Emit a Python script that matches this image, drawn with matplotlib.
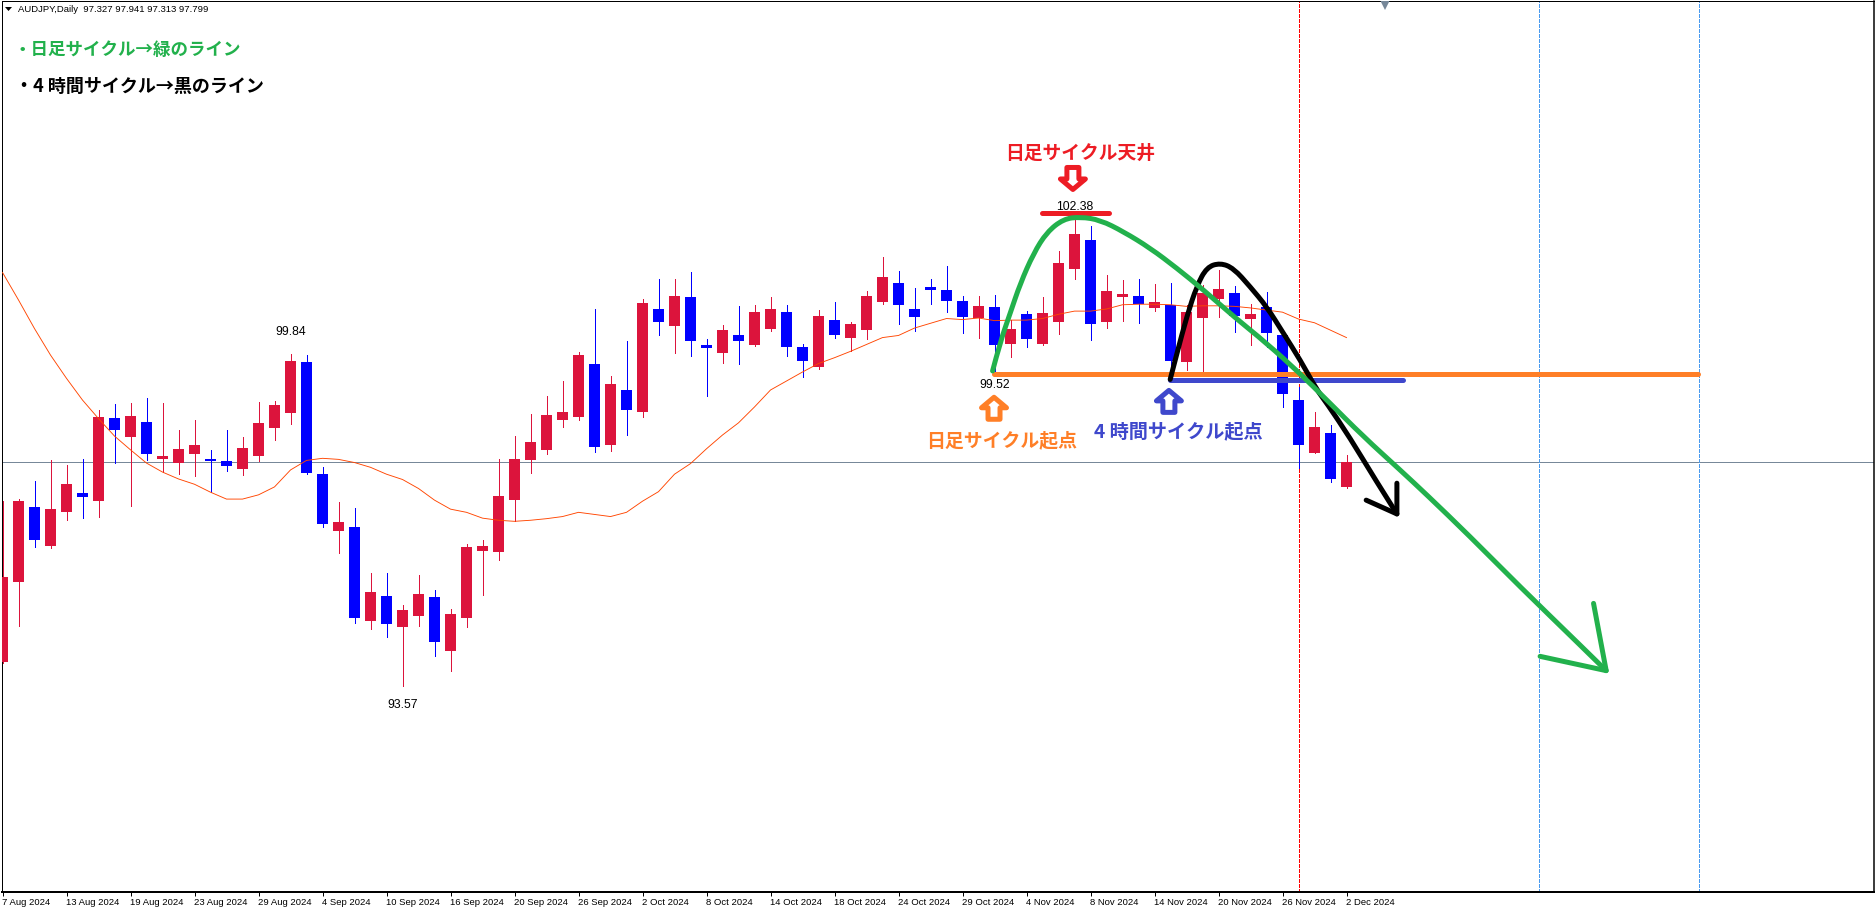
import numpy as np
import matplotlib
matplotlib.use("Agg")
import matplotlib.pyplot as plt
from matplotlib.patches import Polygon, PathPatch
from matplotlib.path import Path
from matplotlib.transforms import Affine2D, ScaledTranslation

plt.rcParams['font.family'] = ['Noto Sans CJK JP', 'DejaVu Sans']

# ---- daily candles (AUDJPY) ----
opens = [94.03,95.54,96.95,96.22,96.86,97.22,97.06,98.63,98.27,98.56,
         97.86,97.78,97.95,97.86,97.82,97.67,97.91,98.44,98.73,99.69,
         97.57,96.50,96.57,94.80,95.27,94.68,94.89,95.25,94.23,94.85,
         96.12,96.10,97.08,97.84,98.03,98.59,98.65,99.65,98.12,99.16,
         98.74,100.69,100.37,100.92,100.01,99.86,100.20,100.01,100.31,100.63,
         99.97,99.59,100.48,100.14,100.29,100.82,101.18,100.69,101.11,101.05,
         100.84,100.52,100.73,100.03,100.60,100.03,100.44,101.45,101.99,100.44,
         100.92,100.94,100.71,100.77,99.69,100.52,100.88,100.99,100.50,100.73,
         100.20,98.97,97.97,98.35,97.327]
highs = [97.06,97.11,97.44,97.84,97.74,97.86,98.78,98.90,98.92,99.01,
         98.92,98.41,98.59,98.03,98.41,98.27,98.93,98.95,99.84,99.82,
         97.71,97.05,96.93,95.70,95.70,95.10,95.67,95.38,95.02,96.25,
         96.33,97.86,98.29,98.71,99.05,99.33,99.88,100.69,99.42,100.09,
         100.88,101.26,101.26,101.39,100.12,100.39,100.75,100.77,100.92,100.77,
         100.03,100.67,100.82,100.44,101.03,101.67,101.41,101.09,101.26,101.50,
         100.94,100.94,100.95,100.48,100.65,100.92,101.79,102.38,102.26,101.33,
         101.24,101.26,101.16,101.18,100.77,101.14,101.43,101.12,100.78,101.01,
         100.28,99.22,98.74,98.50,97.941]
lows = [94.00,94.70,96.20,96.18,96.71,96.74,96.76,97.79,96.97,97.84,
        97.61,97.57,97.54,97.23,97.63,97.56,97.82,98.22,98.52,97.57,
        96.57,96.08,94.76,94.65,94.50,93.57,94.70,94.14,93.85,94.68,
        95.29,95.95,96.69,97.59,97.95,98.46,98.59,97.99,98.01,98.31,
        98.65,100.20,99.86,99.80,99.05,99.67,99.65,99.99,100.27,99.80,
        99.41,99.56,100.14,99.90,100.12,100.78,100.41,100.27,100.78,100.63,
        100.24,100.14,99.52,99.78,99.97,100.01,100.22,101.26,100.10,100.33,
        100.46,100.43,100.65,99.35,99.54,99.52,100.54,100.26,100.01,99.97,
        98.84,97.69,97.97,97.42,97.313]
closes = [95.62,97.06,96.32,96.91,97.39,97.14,98.65,98.41,98.67,97.95,
          97.91,98.05,98.12,97.82,97.73,98.07,98.54,98.88,99.71,97.59,
          96.63,96.67,94.85,95.35,94.74,95.01,95.31,94.40,94.93,96.20,
          96.21,97.16,97.86,98.18,98.69,98.74,99.82,98.08,99.27,98.78,
          100.80,100.44,100.94,100.09,99.95,100.29,100.09,100.63,100.69,99.97,
          99.71,100.56,100.20,100.41,100.94,101.29,100.77,100.54,101.05,100.84,
          100.54,100.75,100.01,100.31,100.12,100.61,101.56,102.11,100.41,101.03,
          100.97,100.78,100.82,99.71,100.63,100.99,101.07,100.56,100.60,100.24,
          99.08,98.12,98.46,97.48,97.799]
ma_line = [101.38,100.86,100.32,99.82,99.38,98.97,98.62,98.29,98.03,97.78,
           97.61,97.48,97.38,97.23,97.10,97.10,97.18,97.33,97.65,97.83,
           97.87,97.85,97.79,97.70,97.57,97.47,97.30,97.08,96.91,96.85,
           96.74,96.70,96.68,96.70,96.73,96.77,96.85,96.81,96.77,96.85,
           97.06,97.24,97.57,97.77,98.05,98.31,98.54,98.84,99.16,99.33,
           99.50,99.66,99.77,99.89,100.02,100.15,100.19,100.33,100.42,100.51,
           100.49,100.52,100.47,100.48,100.48,100.51,100.59,100.65,100.65,100.69,
           100.77,100.78,100.78,100.77,100.74,100.75,100.75,100.74,100.71,100.67,
           100.63,100.50,100.43,100.29,100.15]

tick_bars = list(range(0, 85, 4))
tick_labels = ['7 Aug 2024','13 Aug 2024','19 Aug 2024','23 Aug 2024','29 Aug 2024',
               '4 Sep 2024','10 Sep 2024','16 Sep 2024','20 Sep 2024','26 Sep 2024',
               '2 Oct 2024','8 Oct 2024','14 Oct 2024','18 Oct 2024','24 Oct 2024',
               '29 Oct 2024','4 Nov 2024','8 Nov 2024','14 Nov 2024','20 Nov 2024',
               '26 Nov 2024','2 Dec 2024']
tick_bars = tick_bars[:len(tick_labels)]

bid_price = 97.799
red_vline_bar = 81
blue_vline_bars = [96, 106]

# ---- hand-drawn overlays, (bar, price) ----
green_bar = [61.88,62.36,62.98,63.61,64.44,65.27,66.31,67.36,68.61,70.06,71.73,73.40,
             75.06,76.94,79.02,81.10,82.77,85.06,87.35,89.02,91.63,94.86,98.61,100.23]
green_price = [99.52,100.07,100.61,101.17,101.74,102.14,102.39,102.43,102.37,102.15,101.84,101.46,
               101.05,100.55,100.04,99.47,98.97,98.28,97.65,97.18,96.42,95.44,94.34,93.86]
green_head_bar = [96.10,100.23,99.44]
green_head_price = [94.13,93.86,95.13]
black_bar = [72.98,73.40,74.02,74.65,75.27,76.11,76.94,77.98,79.02,80.06,81.10,82.15,82.77,84.23,85.69,87.15]
black_price = [99.36,99.85,100.55,101.13,101.48,101.56,101.46,101.11,100.73,100.23,99.73,99.16,98.91,98.25,97.52,96.82]
black_head_bar = [85.23,87.15,87.15]
black_head_price = [97.08,96.82,97.40]
orange_level = (61.94, 105.98, 99.47)
blue_level = (72.98, 87.54, 99.34)
red_level = (64.96, 69.13, 102.50)

price_labels = [(18, 99.84, '99.84', 22), (25, 93.57, '93.57', -19),
                (62, 99.52, '99.52', -14), (67, 102.38, '102.38', 13)]

C_UP, C_DOWN = '#DC143C', '#0000FF'
C_GREEN, C_ORANGE, C_BLUE, C_RED = '#22B14C', '#FF7F27', '#3F48CC', '#ED1C24'
PX = 0.72  # points per pixel at dpi 100

W, H = 1875, 910
fig = plt.figure(figsize=(W/100, H/100), dpi=100, facecolor='white')
ax = fig.add_axes([1.5/W, (H-892)/H, (1874-1.5)/W, (892-0.5)/H])
ax.set_xlim((1.5-2.5)/16, (1874-2.5)/16)
ax.set_ylim(99.84-(892-354)/52.95, 99.84+(354-0.5)/52.95)

x = np.arange(len(opens))
o, h, l, c = map(np.array, (opens, highs, lows, closes))
cols = [C_UP if ci >= oi else C_DOWN for oi, ci in zip(o, c)]

ax.axhline(bid_price, color='#778899', lw=1*PX, zorder=1, antialiased=False)
ax.axvline(red_vline_bar, color='#FF0000', lw=1*PX, ls=(0, (3, 2)), zorder=1, antialiased=False)
for b in blue_vline_bars:
    ax.axvline(b, color='#4A9BEF', lw=1*PX, ls=(0, (3, 2)), zorder=1, antialiased=False)

ax.vlines(x, l, h, colors=cols, lw=1*PX, zorder=2, antialiased=False)
ax.bar(x, np.maximum(np.abs(c-o), 0.03), bottom=np.minimum(o, c), width=11/16,
       color=cols, linewidth=0, zorder=3, antialiased=False)
ax.plot(x, ma_line, color='#FF4500', lw=0.9*PX, zorder=4)

for (x0, x1, y), col in ((orange_level, C_ORANGE), (blue_level, C_BLUE), (red_level, C_RED)):
    ax.plot([x0, x1], [y, y], color=col, lw=5*PX, solid_capstyle='round', zorder=5)

def smooth_stroke(xs, ys, col, z):
    # quadratic curve through the midpoints of the read points
    P = np.column_stack([xs, ys])
    verts, codes = [P[0]], [Path.MOVETO]
    for i in range(1, len(P) - 1):
        end = (P[i] + P[i+1]) / 2 if i < len(P) - 2 else P[i+1]
        verts += [P[i], end]
        codes += [Path.CURVE3, Path.CURVE3]
    ax.add_patch(PathPatch(Path(verts, codes), facecolor='none', edgecolor=col, lw=5*PX,
                           capstyle='round', joinstyle='round', zorder=z))

smooth_stroke(green_bar, green_price, C_GREEN, 7)
ax.plot(green_head_bar, green_head_price, color=C_GREEN, lw=5*PX, solid_joinstyle='round', solid_capstyle='round', zorder=7)
smooth_stroke(black_bar, black_price, 'black', 6)
ax.plot(black_head_bar, black_head_price, color='black', lw=5*PX, solid_joinstyle='round', solid_capstyle='round', zorder=6)

for b, p, s, dy in price_labels:
    ax.annotate(s, xy=(b, p), xytext=(0, dy*PX), textcoords='offset points', ha='center', va='center',
                fontsize=8.8, family=['Liberation Sans'], color='black', zorder=5)

# block arrows: (bar, price of tip, direction, colour)
def block_arrow(bar, price, d, col):
    pts = np.array([(0, -2.5), (12.5, -13), (6, -13), (6, -24.5), (-6, -24.5), (-6, -13), (-12.5, -13)], float)
    pts[:, 1] *= d
    px, py = ax.transData.transform((bar, price))
    ax.add_patch(Polygon(pts, closed=True, facecolor='white', edgecolor=col, lw=5*PX,
                         transform=Affine2D().translate(px, py), zorder=6, joinstyle='round'))
block_arrow(66.9, 102.90, -1, C_RED)
block_arrow(61.97, 99.07, 1, C_ORANGE)
block_arrow(72.9, 99.20, 1, C_BLUE)

# frame and axis
for s in ax.spines.values():
    s.set_color('black'); s.set_linewidth(1*PX)
ax.spines['bottom'].set_linewidth(2*PX)
ax.spines['right'].set_linewidth(1.5*PX)
ax.set_yticks([])
ax.set_xticks(tick_bars)
ax.set_xticklabels(tick_labels, fontsize=6.8, family=['Liberation Sans'], ha='left')
ax.tick_params(axis='x', length=4*PX, width=1*PX, pad=1.5, color='black')
off = ScaledTranslation(-1/100, 0, fig.dpi_scale_trans)
for t in ax.get_xticklabels():
    t.set_transform(t.get_transform() + off)

# top marker of the bid level
ax.plot([86.4], [106.44], marker='v', ms=8*PX*1.2, color='#778899', mew=0, clip_on=True, zorder=8)

def ptext(px, py, s, **kw):
    return fig.text(px/W, 1-py/H, s, va='center', ha='left', **kw)

ptext(18, 9, 'AUDJPY,Daily  97.327 97.941 97.313 97.799', fontsize=6.8, family=['Liberation Sans'], color='black')
fig.add_artist(Polygon([[5/W, 1-7/H], [12/W, 1-7/H], [8.5/W, 1-11/H]], closed=True,
                       transform=fig.transFigure, color='black', lw=0))
ptext(14, 50, '・日足サイクル→緑のライン', fontsize=12.6, color=C_GREEN, weight='bold')
ptext(15, 86, '・4 時間サイクル→黒のライン', fontsize=13.0, color='black', weight='bold')
ptext(1005, 153.5, '日足サイクル天井', fontsize=13.5, color=C_RED, weight='bold')
ptext(926, 441, '日足サイクル起点', fontsize=13.6, color=C_ORANGE, weight='bold')
ptext(1094, 431.5, '4 時間サイクル起点', fontsize=13.8, color=C_BLUE, weight='bold')

fig.savefig('out.png', dpi=100)
